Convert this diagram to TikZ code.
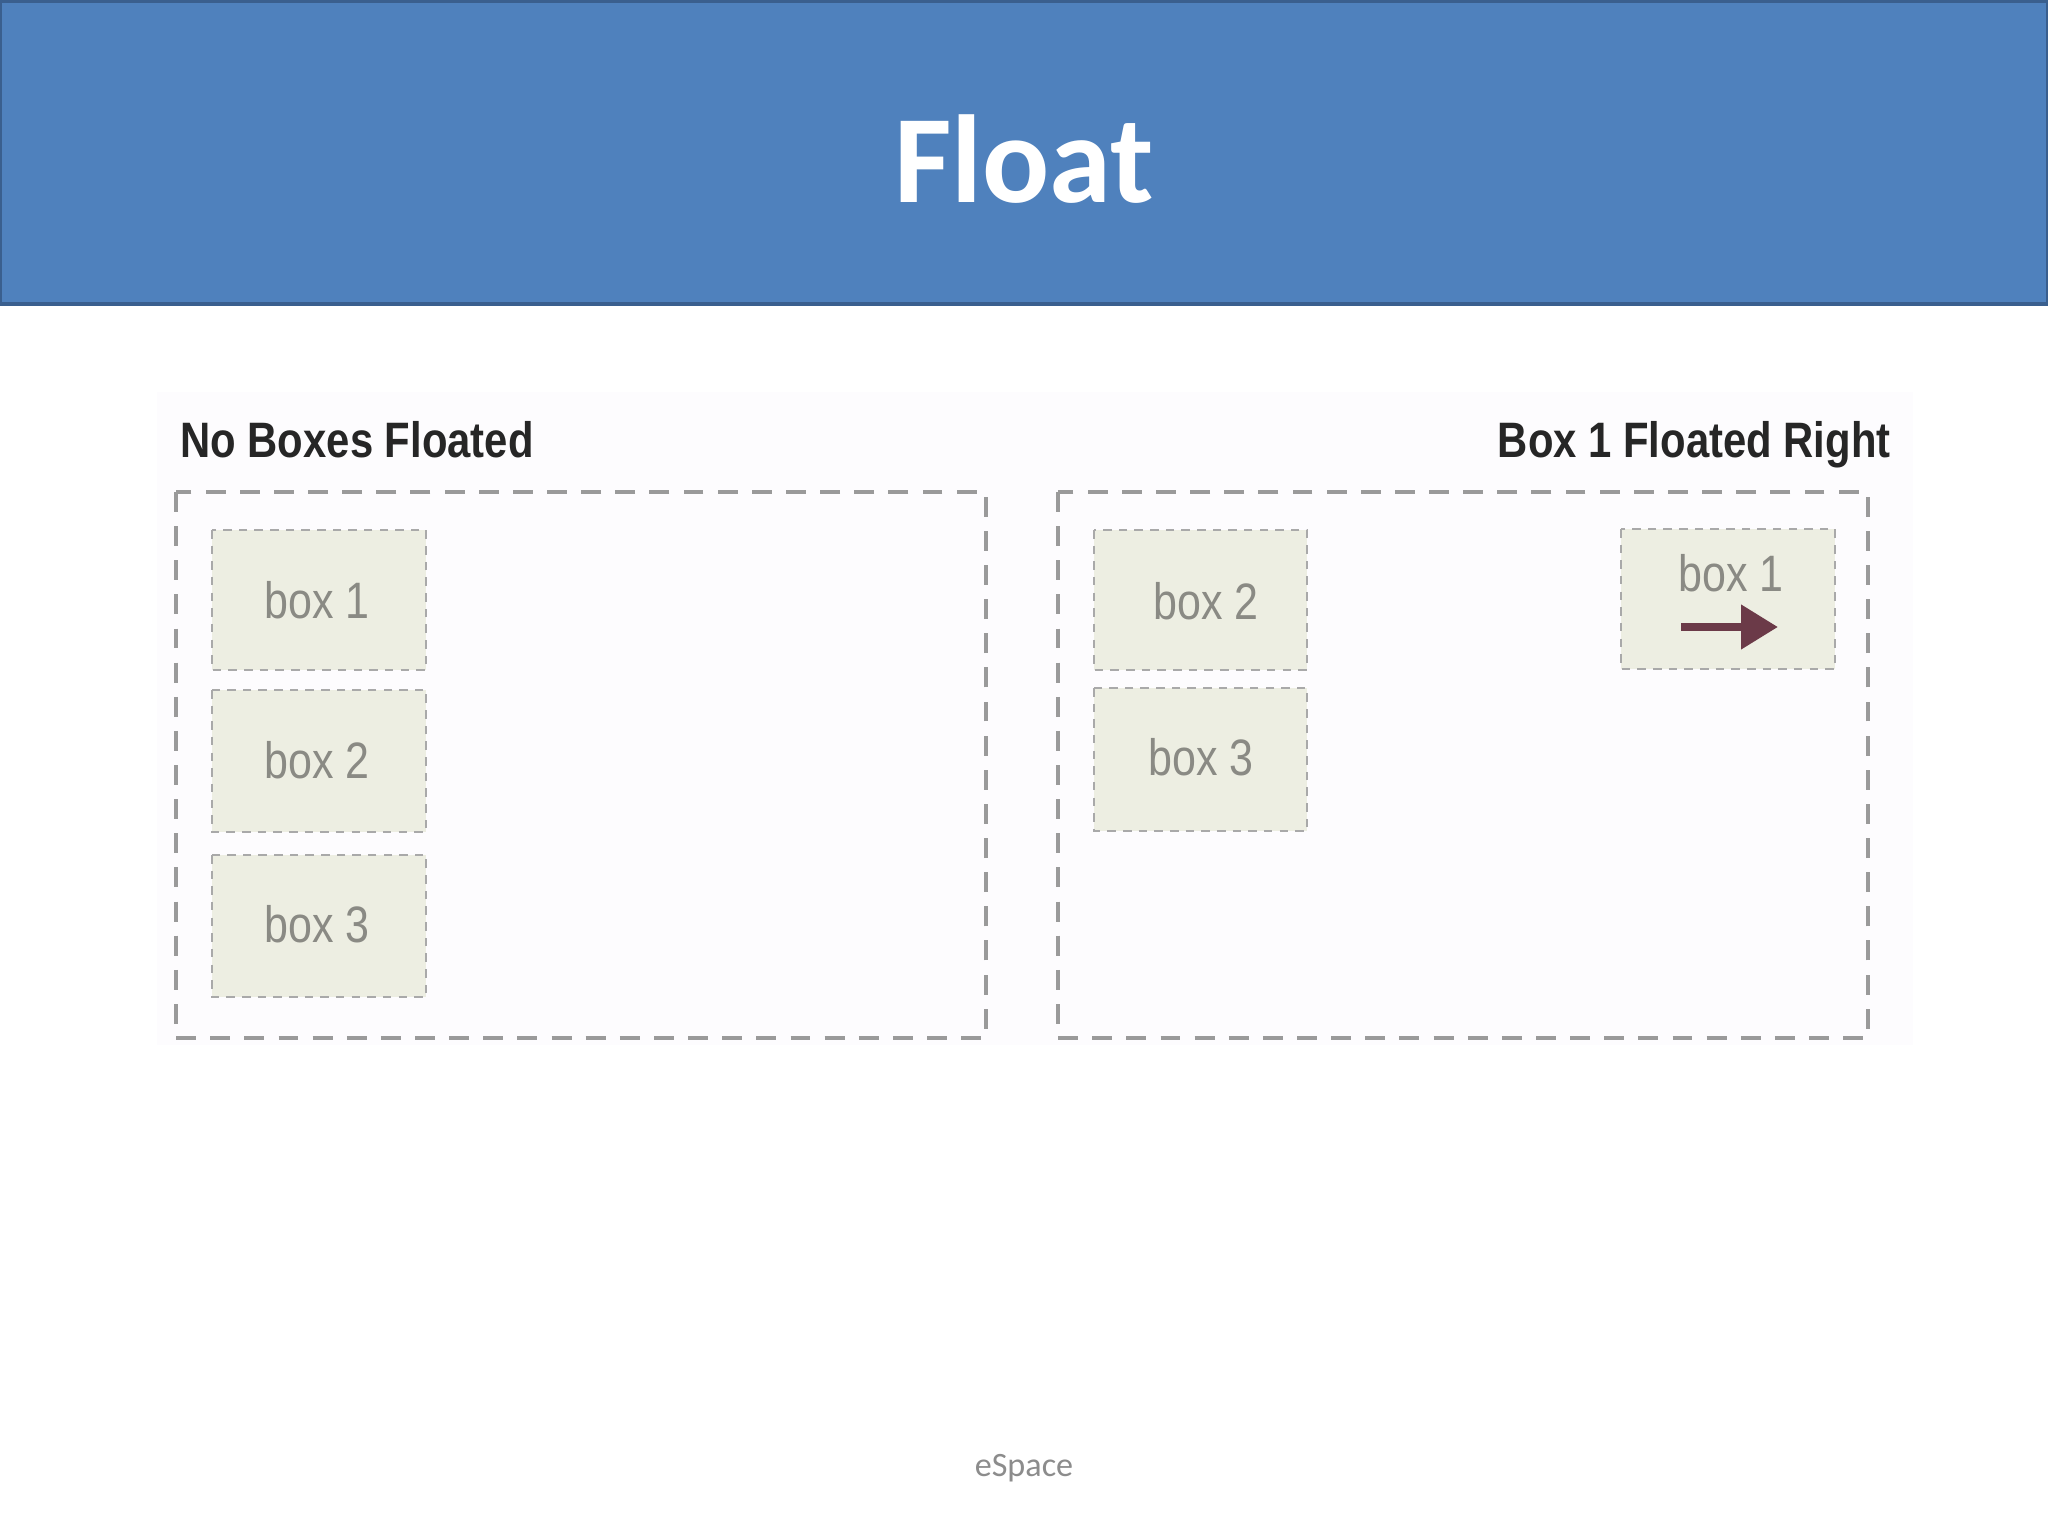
\documentclass[tikz,border=0pt]{standalone}
\usepackage{fontspec}
\setmainfont{Liberation Sans}
\newfontfamily\titlefont{Carlito}
\usetikzlibrary{arrows.meta}
\definecolor{hdr}{HTML}{4F81BD}
\definecolor{hdrline}{HTML}{3A5F8E}
\definecolor{boxfill}{HTML}{EDEEE2}
\definecolor{dashgray}{HTML}{9A9A9A}
\definecolor{boxtext}{HTML}{8A8A84}
\definecolor{arrowc}{HTML}{6B3A48}
\definecolor{footc}{HTML}{8C8C8C}
\definecolor{faintbg}{HTML}{FDFCFE}
\tikzset{
  outerbox/.style={draw=dashgray, line width=1.1pt, dash pattern=on 7pt off 5pt},
  innerbox/.style={draw=dashgray!85, fill=boxfill, line width=0.6pt, dash pattern=on 3pt off 2.5pt},
  boxlabel/.style={text=boxtext, font=\fontsize{18}{20}\selectfont, xscale=0.84, inner sep=0pt},
  heading/.style={text=black!85, font=\bfseries\fontsize{17.5}{20}\selectfont, xscale=0.84, inner sep=0pt},
}
\begin{document}
\begin{tikzpicture}[x=0.3515625pt, y=-0.3515625pt]
\useasboundingbox (0,0) rectangle (2048,1536);
\fill[white] (0,0) rectangle (2048,1536);
% header
\draw[fill=hdr, draw=hdrline, line width=1.2pt] (0,1) rectangle (2048,304);
\node[anchor=base, text=white, font=\titlefont\bfseries\fontsize{44}{48}\selectfont, inner sep=0pt] (title) at (1024,203) {Float};
% faint image background
\fill[faintbg] (157,392) rectangle (1913,1045);
% headings
\node[heading, anchor=base west] (hleft) at (180,458) {No Boxes Floated};
\node[heading, anchor=base east] (hright) at (1891,458) {Box 1 Floated Right};
% containers
\draw[outerbox] (176,492) rectangle (986,1038);
\draw[outerbox] (1058,492) rectangle (1868,1038);
% left boxes
\draw[innerbox] (212,530) rectangle (426,670);
\node[boxlabel, anchor=base] (l1) at (317,618) {box 1};
\draw[innerbox] (212,690) rectangle (426,832);
\node[boxlabel, anchor=base] (l2) at (317,778) {box 2};
\draw[innerbox] (212,855) rectangle (426,997);
\node[boxlabel, anchor=base] (l3) at (317,942) {box 3};
% right boxes
\draw[innerbox] (1094,530) rectangle (1307,670);
\node[boxlabel, anchor=base] (r2) at (1206,620) {box 2};
\draw[innerbox] (1094,688) rectangle (1307,831);
\node[boxlabel, anchor=base] (r3) at (1201,775) {box 3};
\draw[innerbox] (1621,529) rectangle (1835,669);
\node[boxlabel, anchor=base] (r1) at (1731,592) {box 1};
\coordinate (as) at (1681,627);
\coordinate (ae) at (1778,627);
\draw[arrowc, line width=3pt, -{Triangle[length=13pt, width=15pt]}] (as) -- (ae);
% footer
\node[text=footc, font=\titlefont\fontsize{12}{14}\selectfont, inner sep=0pt] (foot) at (1024,1468) {eSpace};
\end{tikzpicture}
\end{document}
